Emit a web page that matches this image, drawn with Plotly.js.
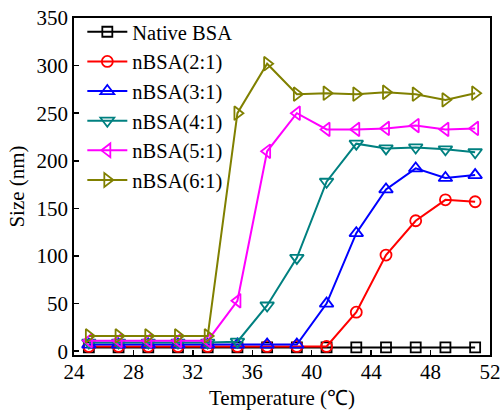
<!DOCTYPE html>
<html>
<head>
<meta charset="utf-8">
<script src="https://cdn.plot.ly/plotly-3.0.1.min.js"></script>
<style>html,body{margin:0;padding:0;background:#fff;}#chart{width:502px;height:410px;}</style>
</head>
<body>
<div id="chart"></div>
<script>
const temperature = [25, 27, 29, 31, 33, 35, 37, 39, 41, 43, 45, 47, 49, 51];
const seriesNames = ["Native BSA", "nBSA(2:1)", "nBSA(3:1)", "nBSA(4:1)", "nBSA(5:1)", "nBSA(6:1)"];
const nativeBSA = [4, 4, 4, 4, 4, 4, 4, 4, 4, 4, 4, 4, 4, 4];
const nBSA21 = [5, 5, 5, 5, 5, 5, 5, 5, 5, 41, 101, 137, 159, 157];
const nBSA31 = [7, 7, 7, 7, 7, 7, 7, 7, 50, 124, 170, 192, 182, 185];
const nBSA41 = [9, 9, 9, 9, 9, 10, 48, 98, 178, 218, 213, 214, 212, 209];
const nBSA51 = [11, 11, 11, 11, 11, 53, 210, 250, 233, 233, 234, 237, 233, 234];
const nBSA61 = [16, 16, 16, 16, 16, 250, 302, 270, 271, 270, 272, 270, 264, 271];
const xTicks = [24, 28, 32, 36, 40, 44, 48, 52];
const yTicks = [0, 50, 100, 150, 200, 250, 300, 350];

const allSeries = [nativeBSA, nBSA21, nBSA31, nBSA41, nBSA51, nBSA61];
const colors = ["#000000", "#ff0000", "#0000ff", "#008080", "#ff00ff", "#808000"];
const symbols = ["square-open", "circle-open", "triangle-up-open", "triangle-down-open", "triangle-left-open", "triangle-right-open"];
const sizes = [10, 11, 12, 12, 12, 12];

const traces = allSeries.map((ys, i) => ({
  x: temperature,
  y: ys,
  name: seriesNames[i],
  type: "scatter",
  mode: "lines+markers",
  line: {color: colors[i], width: 2},
  marker: {symbol: symbols[i], size: sizes[i], color: colors[i], line: {color: colors[i], width: 1.8}}
}));

const font = {family: "Liberation Serif, Times New Roman, serif", size: 21, color: "#000"};
const legendFont = {family: "Liberation Serif, Times New Roman, serif", size: 20.5, color: "#000"};

const layout = {
  width: 502, height: 410,
  margin: {l: 74, r: 12, t: 18, b: 55},
  paper_bgcolor: "#fff", plot_bgcolor: "#fff",
  font: font,
  showlegend: true,
  legend: {
    x: 0.02, y: 1.018, xanchor: "left", yanchor: "top",
    bgcolor: "rgba(0,0,0,0)", borderwidth: 0,
    font: legendFont, itemwidth: 40, tracegroupgap: 0
  },
  xaxis: {
    range: [24, 52],
    tickvals: xTicks, ticktext: xTicks.map(String),
    ticks: "inside", ticklen: 5, tickwidth: 1.5, tickcolor: "#000",
    ticklabelstandoff: -3,
    showline: true, linecolor: "#000", linewidth: 1.8, mirror: true,
    showgrid: false, zeroline: false,
    tickfont: font,
    title: {text: "Temperature (℃)", font: font, standoff: 10}
  },
  yaxis: {
    range: [-4, 350],
    tickvals: yTicks, ticktext: yTicks.map(String),
    ticks: "inside", ticklen: 5, tickwidth: 1.5, tickcolor: "#000",
    showline: true, linecolor: "#000", linewidth: 1.8, mirror: true,
    showgrid: false, zeroline: false,
    tickfont: font,
    title: {text: "Size (nm)", font: font, standoff: 6}
  }
};

Plotly.newPlot("chart", traces, layout, {displayModeBar: false, staticPlot: true});
</script>
</body>
</html>
